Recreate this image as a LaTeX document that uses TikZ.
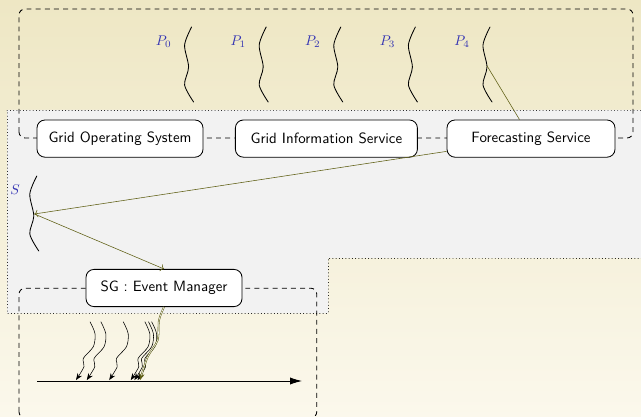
\documentclass[tikz,border=0pt]{standalone}
\usepackage{tikz}
\usetikzlibrary{arrows.meta,calc,positioning}
\definecolor{sandtop}{RGB}{238,231,196}
\definecolor{sandbottom}{RGB}{251,248,236}
\definecolor{panelgray}{RGB}{242,242,242}
\definecolor{procblue}{RGB}{51,51,179}
\definecolor{msgolive}{RGB}{95,95,20}

\begin{document}
\begin{tikzpicture}[
  service/.style={draw, semithick, fill=white, rounded corners=0.2cm,
    minimum height=0.93cm, inner xsep=0.25cm,
    font=\sffamily\fontsize{10.6}{13}\selectfont},
  plabel/.style={text=procblue, anchor=east, inner sep=0pt},
  lifeline/.style={semithick, line cap=round},
  group/.style={semithick, dash pattern=on 3.5pt off 3pt, rounded corners=0.15cm},
  panel/.style={line cap=round, dash pattern=on 0.01pt off 2.3pt, semithick},
  link/.style={msgolive},
  msg/.style={msgolive, ->},
  event/.style={-{Stealth[length=1.7mm,width=1.3mm]}},
]
  \useasboundingbox (0,0) rectangle (16.025,10.425);
  \clip (0,0) rectangle (16.025,10.425);
  % background
  \shade[top color=sandtop, bottom color=sandbottom] (0,0) rectangle (16.025,10.425);
  % shared panel
  \fill[panelgray] (0.18,7.675) -- (16.2,7.675) -- (16.2,3.97) -- (8.2,3.97)
    -- (8.2,2.59) -- (0.18,2.59) -- cycle;
  \draw[panel] (0.18,7.675) -- (16.2,7.675) -- (16.2,3.97) -- (8.2,3.97)
    -- (8.2,2.59) -- (0.18,2.59) -- cycle;
  % groups
  \draw[group] (0.475,6.975) rectangle (15.825,10.2);
  \draw[group] (0.475,-0.02) rectangle (7.92,3.22);

  % processes P0..P4
  \foreach \i in {0,...,4} {
    \coordinate (p\i) at ({4.79+1.865*\i},9.75);
    \draw[lifeline, shift={(p\i)}] plot[smooth] coordinates
      {(0,0) (-0.175,-0.45) (-0.075,-1.0) (-0.175,-1.45) (0.05,-1.875)};
    \coordinate (pm\i) at ($(p\i)+(-0.075,-0.97)$);
    \node[plabel] (pl\i) at ($(p\i)+(-0.5,-0.37)$) {$P_{\i}$};
  }
  % process S
  \coordinate (s) at (0.92,6.025);
  \draw[lifeline, shift={(s)}] plot[smooth] coordinates
    {(0,0) (-0.175,-0.45) (-0.075,-1.0) (-0.175,-1.45) (0.05,-1.875)};
  \coordinate (sm) at ($(s)+(-0.06,-0.95)$);
  \node[plabel] (sl) at ($(s)+(-0.42,-0.35)$) {$S$};

  % services
  \node[service, minimum width=4.15cm] (gos) at (3.0,6.96) {Grid Operating System};
  \node[service, minimum width=4.55cm] (gis) at (8.16,6.96) {Grid Information Service};
  \node[service, minimum width=4.2cm] (fs) at (13.275,6.96) {Forecasting Service};
  \node[service, minimum width=3.9cm] (sg) at (4.1,3.225) {SG : Event Manager};

  % messages
  \draw[link] (pm4) -- (fs);
  \draw[msg] (fs) -- (sm);
  \draw[msg] (sm) -- (sg.north);

  % time line of events
  \coordinate (t0) at (0.925,0.9);
  \coordinate (t1) at (7.55,0.9);
  \draw[semithick, -{Latex[length=3mm,width=1.8mm]}] (t0) -- (t1);
  \foreach \x in {2.25,2.52,3.08,3.62,3.71,3.79}
    \draw[event, shift={(\x,2.383)}] plot[smooth] coordinates
      {(0,0) (0.125,-0.3) (0.083,-0.625) (-0.167,-0.917) (-0.15,-1.125) (-0.35,-1.46)};
  \draw[event, msgolive, double, double distance=0.4pt, shift={(sg.south)}] plot[smooth] coordinates
    {(0,0) (-0.125,-0.33) (-0.16,-0.83) (-0.41,-1.25) (-0.6,-1.83)};
\end{tikzpicture}
\end{document}
